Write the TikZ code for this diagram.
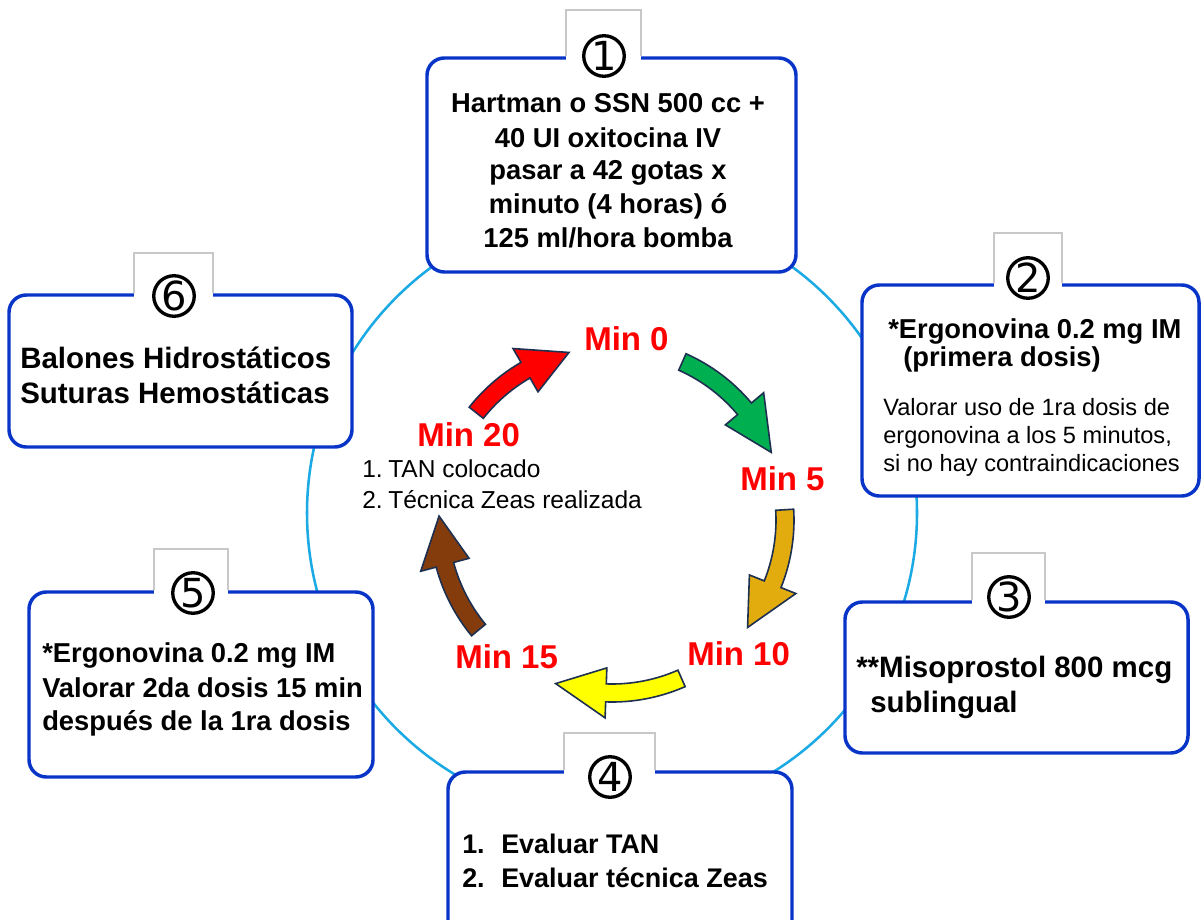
\documentclass[tikz,border=0pt]{standalone}
\usepackage{fontspec}
\setmainfont{Liberation Sans}
\newfontfamily\digitfont{DejaVu Sans}
\definecolor{ringblue}{RGB}{28,170,228}
\definecolor{panelblue}{RGB}{8,52,200}
\definecolor{tabgray}{RGB}{200,200,200}
\definecolor{edgenavy}{RGB}{30,48,80}
\definecolor{arrgreen}{RGB}{0,176,80}
\definecolor{arrgold}{RGB}{226,172,14}
\definecolor{arryellow}{RGB}{255,255,0}
\definecolor{arrbrown}{RGB}{132,60,12}
\definecolor{arrred}{RGB}{255,0,0}
\definecolor{minred}{RGB}{255,0,0}

% radii of the curved block arrows (pixel units)
\def\Rmid{173}
\def\Rout{182}
\def\Rin{164}
\def\Rwo{198}
\def\Rwi{148}
% #1 colour, #2 tail angle, #3 head base angle, #4 tip angle
\newcommand{\blockarc}[4]{%
  \path[arrowedge, fill=#1]
    (#2:\Rout) arc[start angle=#2, end angle=#3, radius=\Rout]
    -- (#3:\Rwo) -- (#4:\Rmid) -- (#3:\Rwi) -- (#3:\Rin)
    arc[start angle=#3, end angle=#2, radius=\Rin] -- cycle;}

\begin{document}
\begin{tikzpicture}[x=0.75pt, y=-0.75pt,
  ring/.style={draw=ringblue, line width=1.9pt},
  panel/.style={draw=panelblue, line width=2.6pt, fill=white, rounded corners=13pt},
  tabline/.style={draw=tabgray, line width=0.8pt},
  numcirc/.style={circle, draw=black, line width=2.5pt, minimum size=30.4pt,
    inner sep=0pt, font=\digitfont\fontsize{30}{30}\selectfont},
  arrowedge/.style={draw=edgenavy, line width=1.2pt, line join=miter},
  txtA/.style={inner sep=0pt, anchor=base west, font=\fontsize{20.5}{24}\selectfont\bfseries},
  txtC/.style={inner sep=0pt, anchor=base, font=\fontsize{20.5}{24}\selectfont\bfseries},
  txtB/.style={inner sep=0pt, anchor=base west, font=\fontsize{22.1}{26}\selectfont\bfseries},
  txtD/.style={inner sep=0pt, anchor=base west, font=\fontsize{20.2}{24}\selectfont\bfseries},
  txtS/.style={inner sep=0pt, anchor=base west, font=\fontsize{17.7}{21}\selectfont},
  txtM/.style={inner sep=0pt, anchor=base west, font=\fontsize{18.4}{22}\selectfont},
  minlbl/.style={inner sep=0pt, anchor=base west, text=minred,
    font=\fontsize{24.75}{28}\selectfont\bfseries}
]
\path[use as bounding box] (0,0) rectangle (1202,920);
\clip (0,0) rectangle (1202,920);
\fill[white] (0,0) rectangle (1202,920);

% outer ring
\draw[ring] (612,513) circle[radius=305];

% panels
\draw[panel] (427,58) rectangle (796,272);
\draw[panel] (862,285) rectangle (1199,496);
\draw[panel] (845,602) rectangle (1188,753);
\draw[panel] (448,772) rectangle (792,940);
\draw[panel] (29,592) rectangle (373,777);
\draw[panel] (9,295) rectangle (352,447);

% number tabs
\fill[white] (566,10) rectangle (641,64);
\draw[tabline] (566,56) -- (566,10) -- (641,10) -- (641,56);
\fill[white] (994,233) rectangle (1062,291);
\draw[tabline] (994,283) -- (994,233) -- (1062,233) -- (1062,283);
\fill[white] (972,553) rectangle (1045,608);
\draw[tabline] (972,600) -- (972,553) -- (1045,553) -- (1045,600);
\fill[white] (564,733) rectangle (655,778);
\draw[tabline] (564,770) -- (564,733) -- (655,733) -- (655,770);
\fill[white] (154,549) rectangle (228,598);
\draw[tabline] (154,590) -- (154,549) -- (228,549) -- (228,590);
\fill[white] (134,253) rectangle (213,301);
\draw[tabline] (134,293) -- (134,253) -- (213,253) -- (213,293);

\node[numcirc] (n1) at (604,56) {1};
\node[numcirc] (n2) at (1028,278) {2};
\node[numcirc] (n3) at (1009,597) {3};
\node[numcirc] (n4) at (610,777) {4};
\node[numcirc] (n5) at (193,593) {5};
\node[numcirc] (n6) at (174,296) {6};

% panel 1
\node[txtC] (p1a) at (608,113) {Hartman o SSN 500 cc +};
\node[txtC] (p1b) at (608,147) {40 UI oxitocina IV};
\node[txtC] (p1c) at (608,180) {pasar a 42 gotas x};
\node[txtC] (p1d) at (608,214) {minuto (4 horas) ó};
\node[txtC] (p1e) at (608,247) {125 ml/hora bomba};

% panel 2
\node[txtA] (p2a) at (888,338) {*Ergonovina 0.2 mg IM};
\node[txtA] (p2b) at (903,366) {(primera dosis)};
\node[txtS] (p2c) at (883,415) {Valorar uso de 1ra dosis de};
\node[txtS] (p2d) at (883,443) {ergonovina a los 5 minutos,};
\node[txtS] (p2e) at (883,471) {si no hay contraindicaciones};

% panel 3
\node[txtB] (p3a) at (856,677) {**Misoprostol 800 mcg};
\node[txtB] (p3b) at (870,712) {sublingual};

% panel 4
\node[txtD] (p4a) at (462,853) {1.};
\node[txtD] (p4b) at (501,853) {Evaluar TAN};
\node[txtD] (p4c) at (462,887) {2.};
\node[txtD] (p4d) at (501,887) {Evaluar técnica Zeas};

% panel 5
\node[txtA] (p5a) at (42,662) {*Ergonovina 0.2 mg IM};
\node[txtA] (p5b) at (42,697) {Valorar 2da dosis 15 min};
\node[txtA] (p5c) at (42,730) {después de la 1ra dosis};

% panel 6
\node[txtB] (p6a) at (20,368) {Balones Hidrostáticos};
\node[txtB] (p6b) at (20,403) {Suturas Hemostáticas};

% timeline arrows
\begin{scope}[shift={(612,520)}]
  \blockarc{arrgreen}{294}{320}{337}
  \blockarc{arrgold}{356.6}{381.8}{398.4}
  \blockarc{arryellow}{66.3}{92}{109}
  \blockarc{arrbrown}{140.5}{165}{181.3}
  \blockarc{arrred}{218.3}{240}{255.6}
\end{scope}

% minute labels
\node[minlbl] (m0) at (584,350) {Min 0};
\node[minlbl] (m5) at (740,490) {Min 5};
\node[minlbl] (m10) at (687,665) {Min 10};
\node[minlbl] (m15) at (455,668) {Min 15};
\node[minlbl] (m20) at (417,446) {Min 20};

% centre checklist
\node[txtM] (c1a) at (362,477) {1.};
\node[txtM] (c1b) at (388,477) {TAN colocado};
\node[txtM] (c2a) at (362,508) {2.};
\node[txtM] (c2b) at (388,508) {Técnica Zeas realizada};
\end{tikzpicture}
\end{document}
